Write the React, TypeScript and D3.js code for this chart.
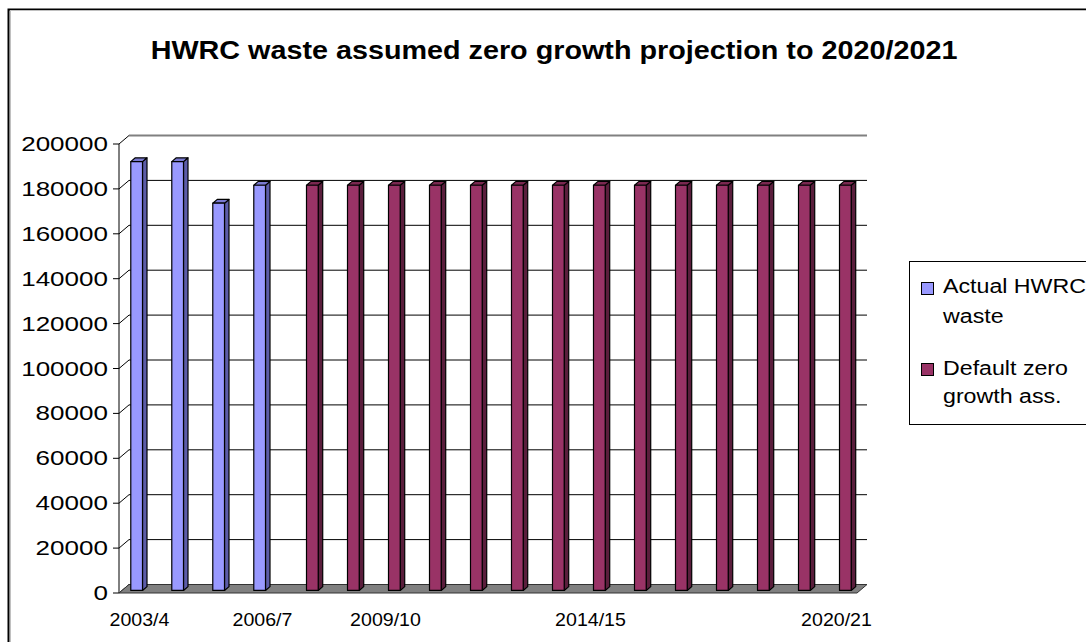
import React from "react";
import * as d3 from "d3";

const categories = [
  "2003/4", "2004/5", "2005/6", "2006/7", "2007/8", "2008/9", "2009/10", "2010/11", "2011/12",
  "2012/13", "2013/14", "2014/15", "2015/16", "2016/17", "2017/18", "2018/19", "2019/20", "2020/21",
];
const actualHWRC: (number | null)[] = [191000, 191000, 172500, 180500, null, null, null, null, null, null, null, null, null, null, null, null, null, null];
const defaultZero: (number | null)[] = [null, null, null, null, 180500, 180500, 180500, 180500, 180500, 180500, 180500, 180500, 180500, 180500, 180500, 180500, 180500, 180500];
const xTickLabels = ["2003/4", "2006/7", "2009/10", "2014/15", "2020/21"];
const yTicks = d3.range(0, 200001, 20000);
const seriesNames = ["Actual HWRC waste", "Default zero growth ass."];

const FONT = "'Liberation Sans', Arial, sans-serif";
const SX = 1.16;

function SText(props: { x: number; y: number; size: number; anchor?: string; weight?: string; sx?: number; children: React.ReactNode }) {
  const { x, y, size, anchor = "start", weight = "normal", sx = SX, children } = props;
  return (
    <g transform={`translate(${x},${y}) scale(${sx},1)`}>
      <text x={0} y={0} fontSize={size} fontFamily={FONT} fontWeight={weight} textAnchor={anchor as any} fill="#000">
        {children}
      </text>
    </g>
  );
}

export default function App() {
  const W = 1086, H = 642;
  const DX = 10, DY = 8.5;
  const d0 = 0.3, d1 = 0.75;
  const x = d3.scaleBand<string>().domain(categories).range([119, 857]).paddingInner(0).paddingOuter(0);
  const sub = d3.scaleBand<string>().domain(["a", "d"]).range([0, x.bandwidth()]).paddingInner(0).paddingOuter(0.75);
  const y = d3.scaleLinear().domain([0, 200000]).range([593, 144]);
  const bw = sub.bandwidth();

  const series = [
    { key: "a", values: actualHWRC, front: "#9999FF", side: "#5C5CA8", top: "#7A7AD0" },
    { key: "d", values: defaultZero, front: "#993366", side: "#5A1E3C", top: "#7A2850" },
  ];

  const bars: React.ReactNode[] = [];
  categories.forEach((c, i) => {
    series.forEach((s) => {
      const v = s.values[i];
      if (v == null) return;
      const x0 = (x(c) as number) + (sub(s.key) as number) + DX * d0;
      const x1 = x0 + bw;
      const yT = y(v) - DY * d0;
      const yB = y(0) - DY * d0;
      const ddx = DX * (d1 - d0), ddy = DY * (d1 - d0);
      bars.push(
        <g key={`${s.key}-${i}`} stroke="#000" strokeWidth={1.2} strokeLinejoin="round">
          <polygon points={`${x1},${yT} ${x1 + ddx},${yT - ddy} ${x1 + ddx},${yB - ddy} ${x1},${yB}`} fill={s.side} />
          <polygon points={`${x0},${yT} ${x1},${yT} ${x1 + ddx},${yT - ddy} ${x0 + ddx},${yT - ddy}`} fill={s.top} />
          <rect x={x0} y={yT} width={bw} height={yB - yT} fill={s.front} />
        </g>
      );
    });
  });

  const xLeft = 119, xRight = 857;

  return (
    <svg width={W} height={H} style={{ position: "absolute", left: 0, top: 0, background: "#fff" }}>
      <rect x={0} y={0} width={W} height={H} fill="#fff" />
      <rect x={8.5} y={9.5} width={1200} height={800} fill="#fff" stroke="#000" strokeWidth={2} />
      <line x1={10.5} y1={11} x2={10.5} y2={H} stroke="#c0c0c0" />
      <line x1={10} y1={10.5} x2={W} y2={10.5} stroke="#c0c0c0" />

      <SText x={554} y={59} size={25} weight="bold" anchor="middle" sx={1.15}>
        HWRC waste assumed zero growth projection to 2020/2021
      </SText>

      {/* back wall gridlines and side-wall connectors */}
      {yTicks.map((t) => {
        const yy = y(t);
        const isTop = t === 200000;
        return (
          <g key={t}>
            <line x1={xLeft} y1={yy} x2={xLeft + DX} y2={yy - DY} stroke="#000" strokeWidth={1} />
            {t > 0 && (
              <line x1={xLeft + DX} y1={yy - DY} x2={xRight + DX} y2={yy - DY} stroke={isTop ? "#808080" : "#000"} strokeWidth={isTop ? 2 : 1} />
            )}
            <line x1={113} y1={yy} x2={xLeft} y2={yy} stroke="#000" />
            <SText x={108} y={yy + 7} size={21} anchor="end" sx={1.24}>{String(t)}</SText>
          </g>
        );
      })}
      <line x1={xLeft} y1={y(0)} x2={xLeft} y2={y(200000)} stroke="#000" />

      {/* floor */}
      <polygon
        points={`${xLeft},${y(0)} ${xRight},${y(0)} ${xRight + DX},${y(0) - DY} ${xLeft + DX},${y(0) - DY}`}
        fill="#808080"
        stroke="#333"
        strokeWidth={1}
      />

      {bars}

      {xTickLabels.map((lab) => (
        <SText key={lab} x={(x(lab) as number) + x.bandwidth() / 2} y={626} size={17.5} anchor="middle" sx={1.12}>
          {lab}
        </SText>
      ))}

      {/* legend */}
      <rect x={909.5} y={261.5} width={200} height={163} fill="#fff" stroke="#000" strokeWidth={1} />
      <rect x={921.5} y={282.5} width={12} height={12} fill={series[0].front} stroke="#000" />
      <SText x={943} y={293} size={20}>Actual HWRC</SText>
      <SText x={943} y={323} size={20}>waste</SText>
      <rect x={921.5} y={363.5} width={12} height={12} fill={series[1].front} stroke="#000" />
      <SText x={943} y={375} size={20}>Default zero</SText>
      <SText x={943} y={403} size={20}>growth ass.</SText>
      <desc>{seriesNames.join(", ")}</desc>
    </svg>
  );
}
